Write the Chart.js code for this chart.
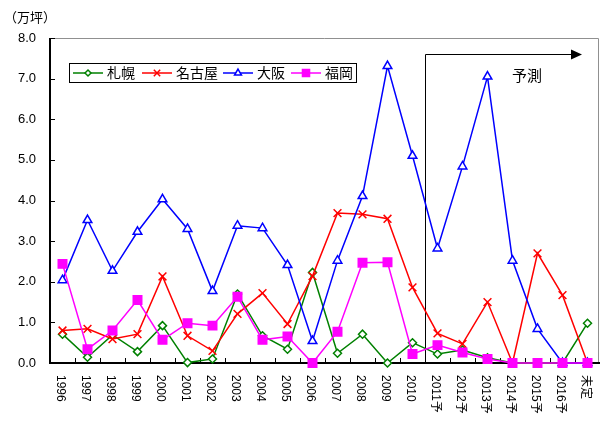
<!DOCTYPE html>
<html>
<head>
<meta charset="utf-8">
<script src="https://cdn.jsdelivr.net/npm/chart.js@4"></script>
<style>
  html, body { margin: 0; padding: 0; background: #fff; }
  #wrap { width: 600px; height: 423px; position: relative; }
</style>
</head>
<body>
<div id="wrap"><canvas id="c" width="600" height="423"></canvas></div>
<script>
// categories (years, forecast years, undecided)
const categories = ['1996', '1997', '1998', '1999', '2000', '2001', '2002', '2003', '2004', '2005',
  '2006', '2007', '2008', '2009', '2010', '2011予', '2012予', '2013予', '2014予', '2015予', '2016予', '未定'];

// supply per city (万坪)
const sapporo = [0.71, 0.14, 0.69, 0.28, 0.92, 0.01, 0.10, 1.70, 0.67, 0.34, 2.23, 0.24, 0.71, 0.00, 0.50,
  0.22, 0.32, 0.13, 0.00, 0.00, 0.00, 0.98];
const nagoya = [0.80, 0.84, 0.59, 0.71, 2.13, 0.67, 0.30, 1.21, 1.72, 0.96, 2.14, 3.69, 3.66, 3.55, 1.86,
  0.73, 0.47, 1.50, 0.00, 2.70, 1.67, 0.00];
const osaka = [2.04, 3.52, 2.27, 3.23, 4.03, 3.30, 1.77, 3.38, 3.32, 2.41, 0.54, 2.52, 4.11, 7.31, 5.10,
  2.82, 4.84, 7.05, 2.52, 0.84, 0.00, 0.00];
const fukuoka = [2.44, 0.34, 0.80, 1.55, 0.57, 0.98, 0.92, 1.63, 0.57, 0.65, 0.00, 0.77, 2.47, 2.48, 0.22,
  0.44, 0.26, 0.10, 0.00, 0.00, 0.00, 0.00];

const yTicks = [0, 1, 2, 3, 4, 5, 6, 7, 8];
const unitLabel = '（万坪）';
const forecastLabel = '予測';
const forecastStart = '2011予';

const FONT = '"Liberation Sans", Arial, "Noto Sans CJK JP", sans-serif';
const JFONT = '"Noto Sans CJK JP", "Liberation Sans", sans-serif';

const series = [
  { label: '札幌', data: sapporo, color: '#008000', style: 'rectRot', radius: 4, fill: '#ffffff' },
  { label: '名古屋', data: nagoya, color: '#ff0000', style: 'crossRot', radius: 5.5, fill: '#ff0000' },
  { label: '大阪', data: osaka, color: '#0000ff', style: 'triangle', radius: 5, fill: '#ffffff' },
  { label: '福岡', data: fukuoka, color: '#ff00ff', style: 'rect', radius: 6, fill: '#ff00ff' }
];

// frame, axes, inside ticks, rotated x labels
const framePlugin = {
  id: 'frame',
  beforeDatasetsDraw(chart) {
    const ctx = chart.ctx, a = chart.chartArea;
    const x = chart.scales.x, y = chart.scales.y;
    ctx.save();
    ctx.strokeStyle = '#909090';
    ctx.lineWidth = 1;
    ctx.beginPath();
    ctx.moveTo(a.left, a.top + 0.5);
    ctx.lineTo(a.right - 1.5, a.top + 0.5);
    ctx.lineTo(a.right - 1.5, a.bottom);
    ctx.stroke();

    ctx.strokeStyle = '#000';
    ctx.lineWidth = 2;
    ctx.beginPath();
    ctx.moveTo(a.left, a.top);
    ctx.lineTo(a.left, a.bottom);
    ctx.lineTo(a.right, a.bottom);
    ctx.stroke();

    ctx.lineWidth = 1;
    ctx.beginPath();
    yTicks.forEach(v => {
      const py = Math.round(y.getPixelForValue(v)) + 0.5;
      ctx.moveTo(a.left, py);
      ctx.lineTo(a.left + 5, py);
    });
    const step = (a.right - a.left) / categories.length;
    for (let i = 1; i < categories.length; i++) {
      const px = Math.round(a.left + i * step) + 0.5;
      ctx.moveTo(px, a.bottom);
      ctx.lineTo(px, a.bottom - 5);
    }
    ctx.stroke();

    ctx.fillStyle = '#000';
    ctx.font = '12px ' + FONT;
    ctx.textAlign = 'left';
    ctx.textBaseline = 'middle';
    categories.forEach((c, i) => {
      const px = x.getPixelForValue(i);
      ctx.save();
      ctx.translate(px - 2, a.bottom + 12);
      ctx.rotate(Math.PI / 2);
      ctx.fillText(c, 0, 0);
      ctx.restore();
    });

    ctx.font = '13px ' + JFONT;
    ctx.textAlign = 'left';
    ctx.fillText(unitLabel, 4, 17);

    // forecast bracket
    const fi = categories.indexOf(forecastStart);
    const fx = Math.round((x.getPixelForValue(fi - 1) + x.getPixelForValue(fi)) / 2) + 0.5;
    const ty = 54.5;
    ctx.strokeStyle = '#000';
    ctx.lineWidth = 1;
    ctx.beginPath();
    ctx.moveTo(fx, a.bottom);
    ctx.lineTo(fx, ty);
    ctx.lineTo(574, ty);
    ctx.stroke();
    ctx.beginPath();
    ctx.moveTo(571, ty - 5);
    ctx.lineTo(582, ty);
    ctx.lineTo(571, ty + 5);
    ctx.closePath();
    ctx.fill();
    ctx.font = '15px ' + JFONT;
    ctx.fillText(forecastLabel, 512, 75);
    ctx.restore();
  },
  afterDatasetsDraw(chart) {
    const ctx = chart.ctx;
    ctx.save();
    ctx.fillStyle = '#fff';
    ctx.fillRect(69, 63, 287, 19);
    ctx.strokeStyle = '#000';
    ctx.lineWidth = 1;
    ctx.strokeRect(69.5, 63.5, 287, 19);
    const items = [73, 142, 223, 291];
    ctx.font = '14px ' + JFONT;
    ctx.textBaseline = 'middle';
    ctx.textAlign = 'left';
    series.forEach((s, i) => {
      const lx = items[i], cy = 73;
      ctx.strokeStyle = s.color;
      ctx.lineWidth = 1.5;
      ctx.beginPath();
      ctx.moveTo(lx, cy);
      ctx.lineTo(lx + 30, cy);
      ctx.stroke();
      ctx.fillStyle = s.fill;
      Chart.helpers.drawPoint(ctx, { pointStyle: s.style, radius: s.radius - 1, borderWidth: 1.5 }, lx + 15, cy);
      ctx.fillStyle = '#000';
      ctx.fillText(s.label, lx + 34, cy);
    });
    ctx.restore();
  }
};

new Chart(document.getElementById('c').getContext('2d'), {
  type: 'line',
  data: {
    labels: categories,
    datasets: series.map((s, i) => ({
      label: s.label,
      data: s.data,
      borderColor: s.color,
      backgroundColor: s.fill,
      pointBorderColor: s.color,
      pointBackgroundColor: s.fill,
      pointStyle: s.style,
      pointRadius: s.radius,
      pointBorderWidth: 1.5,
      borderWidth: 1.5,
      tension: 0,
      fill: false,
      clip: false,
      order: series.length - i
    }))
  },
  options: {
    responsive: false,
    animation: false,
    layout: { autoPadding: false, padding: { top: 38, right: 0, left: 0, bottom: 0 } },
    plugins: {
      legend: { display: false },
      tooltip: { enabled: false }
    },
    scales: {
      x: {
        offset: true,
        grid: { display: false },
        border: { display: false },
        ticks: { display: false },
        afterFit(scale) {
          scale.height = 60;
          scale.paddingLeft = 0;
          scale.paddingRight = 0;
        }
      },
      y: {
        min: 0,
        max: 8,
        grid: { display: false, drawTicks: false },
        border: { display: false },
        ticks: {
          stepSize: 1,
          padding: 14,
          color: '#000',
          font: { size: 13, family: FONT },
          callback: v => v.toFixed(1)
        },
        afterFit(scale) {
          scale.width = 50;
          scale.paddingTop = 0;
          scale.paddingBottom = 0;
        }
      }
    }
  },
  plugins: [framePlugin]
});
</script>
</body>
</html>
